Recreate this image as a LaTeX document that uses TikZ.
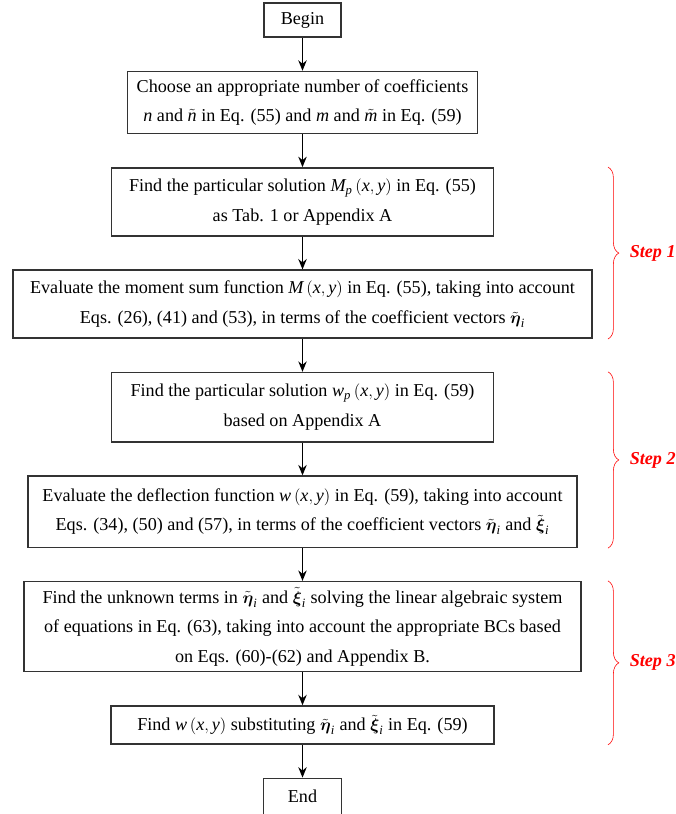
\documentclass[tikz,border=0pt]{standalone}
\usepackage{amsmath,amsfonts,amssymb}
\usepackage{xcolor}
\usepackage{fontspec}
\setmainfont{Liberation Serif}
\usepackage{tikz}
\usetikzlibrary{positioning, arrows.meta, decorations.pathreplacing}
\tikzstyle{startstop} = [rectangle, 
minimum width=1.93cm, 
minimum height=0.86cm,
text centered, 
draw=black!80, 
line width=1.1pt]
\tikzstyle{process} = [rectangle, 
minimum height=1.7cm, 
inner sep=2pt,
align=center, 
draw=black!80, 
line width=1.1pt]
\tikzstyle{arrow} = [line width=1.1pt,->,>={Stealth[length=2.6mm,width=2.1mm]}]
\tikzstyle{stepbrace} = [red, thin, decorate, 
decoration={brace, amplitude=0.27cm}]
\tikzstyle{steplabel} = [text=red, 
font=\fontsize{12.9}{15}\selectfont\bfseries\itshape, 
anchor=west, 
xshift=0.42cm]

\begin{document}
\begin{tikzpicture}[node distance=0.82cm, font=\fontsize{12.9}{21}\selectfont]
\useasboundingbox (0,0) rectangle (16.875,-20.35);

\node (begin) [startstop] at (7.5625,-0.5) {Begin};
\node (choose) [process, below=of begin, minimum width=8.75cm, minimum height=1.55cm] {Choose an appropriate number of coefficients\\
$\mathit{n}$ and $\tilde{\mathit{n}}$ in Eq. (55) and $\mathit{m}$ and $\tilde{\mathit{m}}$ in Eq. (59)};
\node (particular_M) [process, below=of choose, minimum width=9.55cm] {Find the particular solution $\mathit{M}_{\mathit{p}}\left(\mathit{x},\mathit{y}\right)$ in Eq. (55)\\
as Tab. 1 or Appendix A};
\node (moment_sum) [process, below=of particular_M, minimum width=14.48cm] {Evaluate the moment sum function $\mathit{M}\left(\mathit{x},\mathit{y}\right)$ in Eq. (55), taking into account\\
Eqs. (26), (41) and (53), in terms of the coefficient vectors $\tilde{\boldsymbol{\eta}}_{\mathit{i}}$};
\node (particular_w) [process, below=of moment_sum, minimum width=9.55cm, minimum height=1.73cm] {Find the particular solution $\mathit{w}_{\mathit{p}}\left(\mathit{x},\mathit{y}\right)$ in Eq. (59)\\
based on Appendix A};
\node (deflection) [process, below=of particular_w, minimum width=13.73cm, minimum height=1.78cm] {Evaluate the deflection function $\mathit{w}\left(\mathit{x},\mathit{y}\right)$ in Eq. (59), taking into account\\
Eqs. (34), (50) and (57), in terms of the coefficient vectors $\tilde{\boldsymbol{\eta}}_{\mathit{i}}$ and $\tilde{\boldsymbol{\xi}}_{\mathit{i}}$};
\node (unknowns) [process, below=of deflection, minimum width=13.93cm, minimum height=2.25cm] {Find the unknown terms in $\tilde{\boldsymbol{\eta}}_{\mathit{i}}$ and $\tilde{\boldsymbol{\xi}}_{\mathit{i}}$ solving the linear algebraic system\\
of equations in Eq. (63), taking into account the appropriate BCs based\\
on Eqs. (60)-(62) and Appendix B.};
\node (find_w) [process, below=of unknowns, minimum width=9.58cm, minimum height=0.95cm] {Find $\mathit{w}\left(\mathit{x},\mathit{y}\right)$ substituting $\tilde{\boldsymbol{\eta}}_{\mathit{i}}$ and $\tilde{\boldsymbol{\xi}}_{\mathit{i}}$ in Eq. (59)};
\node (end) [startstop, below=of find_w, minimum width=1.95cm, minimum height=0.9cm] {End};

\draw [arrow] (begin) -- (choose);
\draw [arrow] (choose) -- (particular_M);
\draw [arrow] (particular_M) -- (moment_sum);
\draw [arrow] (moment_sum) -- (particular_w);
\draw [arrow] (particular_w) -- (deflection);
\draw [arrow] (deflection) -- (unknowns);
\draw [arrow] (unknowns) -- (find_w);
\draw [arrow] (find_w) -- (end);

% braces for the three steps
\coordinate (bx) at (15.2,0);
\draw [stepbrace] (particular_M.north -| bx) -- node [steplabel] {Step 1} (moment_sum.south -| bx);
\draw [stepbrace] (particular_w.north -| bx) -- node [steplabel] {Step 2} (deflection.south -| bx);
\draw [stepbrace] (unknowns.north -| bx) -- node [steplabel] {Step 3} (find_w.south -| bx);

\end{tikzpicture}
\end{document}
